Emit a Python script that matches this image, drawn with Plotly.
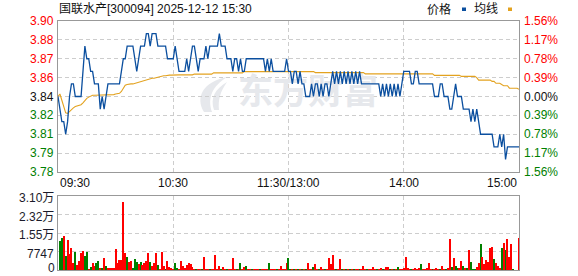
import plotly.graph_objects as go

# ---------------- data ----------------
stock_title = "国联水产[300094] 2025-12-12 15:30"
prev_close = 3.84
max_pct = 1.5625  # percent half-range of the price axis
vol_max = 30988

time_labels = ["09:30", "10:30", "11:30/13:00", "14:00", "15:00"]
time_ticks = [0, 60, 120, 180, 240]

price_labels = ["3.78", "3.79", "3.81", "3.82", "3.84", "3.86", "3.87", "3.88", "3.90"]
pct_labels = ["1.56%", "1.17%", "0.78%", "0.39%", "0.00%", "0.39%", "0.78%", "1.17%", "1.56%"]
vol_labels = ["0", "7747", "1.55万", "2.32万", "3.10万"]

price = [
    3.84, 3.83, 3.82, 3.82, 3.81, 3.82, 3.84, 3.85, 3.85, 3.84,
    3.84, 3.84, 3.84, 3.86, 3.88, 3.87, 3.87, 3.86, 3.86, 3.85,
    3.85, 3.85, 3.83, 3.84, 3.83, 3.84, 3.85, 3.85, 3.85, 3.85,
    3.85, 3.85, 3.85, 3.86, 3.87, 3.87, 3.88, 3.88, 3.88, 3.88,
    3.87, 3.86, 3.87, 3.88, 3.88, 3.88, 3.89, 3.89, 3.88, 3.89,
    3.89, 3.89, 3.88, 3.88, 3.88, 3.88, 3.88, 3.87, 3.87, 3.87,
    3.87, 3.88, 3.87, 3.86, 3.86, 3.86, 3.86, 3.87, 3.86, 3.87,
    3.88, 3.88, 3.87, 3.86, 3.87, 3.87, 3.87, 3.88, 3.87, 3.88,
    3.88, 3.88, 3.88, 3.88, 3.89, 3.88, 3.88, 3.88, 3.87, 3.87,
    3.87, 3.86, 3.87, 3.87, 3.86, 3.87, 3.86, 3.86, 3.87, 3.87,
    3.87, 3.87, 3.87, 3.87, 3.87, 3.87, 3.87, 3.87, 3.86, 3.87,
    3.86, 3.87, 3.86, 3.86, 3.86, 3.86, 3.86, 3.86, 3.86, 3.87,
    3.86, 3.86, 3.85, 3.86, 3.86, 3.85, 3.86, 3.85, 3.85, 3.84,
    3.84, 3.84, 3.85, 3.84, 3.85, 3.85, 3.84, 3.85, 3.84, 3.85,
    3.85, 3.84, 3.85, 3.86, 3.85, 3.86, 3.85, 3.86, 3.85, 3.86,
    3.85, 3.86, 3.85, 3.86, 3.85, 3.86, 3.85, 3.86, 3.85, 3.85,
    3.85, 3.85, 3.85, 3.85, 3.85, 3.85, 3.85, 3.85, 3.84, 3.85,
    3.84, 3.85, 3.84, 3.85, 3.84, 3.85, 3.84, 3.85, 3.84, 3.85,
    3.86, 3.86, 3.86, 3.86, 3.85, 3.85, 3.86, 3.86, 3.85, 3.85,
    3.85, 3.85, 3.85, 3.85, 3.85, 3.85, 3.84, 3.84, 3.84, 3.85,
    3.85, 3.84, 3.84, 3.84, 3.83, 3.83, 3.84, 3.85, 3.84, 3.84,
    3.84, 3.83, 3.83, 3.83, 3.83, 3.82, 3.83, 3.82, 3.83, 3.82,
    3.81, 3.81, 3.81, 3.81, 3.81, 3.81, 3.81, 3.80, 3.80, 3.80,
    3.81, 3.80, 3.81, 3.79, 3.80, 3.80, 3.80, 3.80, 3.80, 3.80,
    3.80,
]

avg_price = [
    3.8400, 3.8420, 3.8370, 3.8310, 3.8270, 3.8265, 3.8280, 3.8300, 3.8310, 3.8320,
    3.8325, 3.8330, 3.8335, 3.8350, 3.8370, 3.8385, 3.8395, 3.8405, 3.8410, 3.8410,
    3.8410, 3.8410, 3.8410, 3.8410, 3.8410, 3.8410, 3.8410, 3.8410, 3.8410, 3.8415,
    3.8420, 3.8425, 3.8425, 3.8440, 3.8470, 3.8490, 3.8495, 3.8500, 3.8500, 3.8500,
    3.8505, 3.8505, 3.8510, 3.8515, 3.8520, 3.8525, 3.8530, 3.8535, 3.8540, 3.8545,
    3.8545, 3.8550, 3.8555, 3.8560, 3.8560, 3.8565, 3.8565, 3.8570, 3.8570, 3.8570,
    3.8572, 3.8572, 3.8572, 3.8572, 3.8572, 3.8572, 3.8572, 3.8572, 3.8572, 3.8572,
    3.8572, 3.8578, 3.8578, 3.8578, 3.8578, 3.8578, 3.8578, 3.8578, 3.8578, 3.8578,
    3.8578, 3.8588, 3.8588, 3.8588, 3.8588, 3.8588, 3.8588, 3.8588, 3.8588, 3.8588,
    3.8588, 3.8588, 3.8588, 3.8588, 3.8588, 3.8588, 3.8588, 3.8598, 3.8598, 3.8598,
    3.8598, 3.8598, 3.8598, 3.8598, 3.8598, 3.8598, 3.8598, 3.8598, 3.8598, 3.8598,
    3.8598, 3.8598, 3.8598, 3.8598, 3.8598, 3.8598, 3.8598, 3.8598, 3.8598, 3.8598,
    3.8598, 3.8598, 3.8598, 3.8598, 3.8598, 3.8598, 3.8598, 3.8598, 3.8598, 3.8598,
    3.8598, 3.8598, 3.8598, 3.8598, 3.8590, 3.8590, 3.8590, 3.8590, 3.8590, 3.8590,
    3.8590, 3.8590, 3.8590, 3.8590, 3.8590, 3.8590, 3.8590, 3.8590, 3.8590, 3.8590,
    3.8590, 3.8590, 3.8590, 3.8590, 3.8590, 3.8590, 3.8590, 3.8590, 3.8590, 3.8590,
    3.8580, 3.8580, 3.8580, 3.8580, 3.8580, 3.8580, 3.8580, 3.8580, 3.8580, 3.8580,
    3.8580, 3.8580, 3.8580, 3.8580, 3.8580, 3.8580, 3.8580, 3.8580, 3.8580, 3.8580,
    3.8580, 3.8580, 3.8580, 3.8580, 3.8580, 3.8580, 3.8580, 3.8580, 3.8580, 3.8580,
    3.8580, 3.8580, 3.8580, 3.8580, 3.8580, 3.8580, 3.8568, 3.8568, 3.8568, 3.8568,
    3.8568, 3.8568, 3.8568, 3.8568, 3.8568, 3.8568, 3.8568, 3.8568, 3.8568, 3.8568,
    3.8560, 3.8560, 3.8560, 3.8560, 3.8560, 3.8560, 3.8560, 3.8560, 3.8550, 3.8530,
    3.8530, 3.8530, 3.8530, 3.8530, 3.8530, 3.8530, 3.8520, 3.8520, 3.8505, 3.8505,
    3.8505, 3.8495, 3.8486, 3.8486, 3.8486, 3.8466, 3.8466, 3.8466, 3.8466, 3.8466,
    3.8457,
]

volume = [
    0,
    12100, 13500, 14200, 5900, 12600, 6600, 9400, 2800, 7500, 2100,
    3800, 7300, 7900, 5900, 7500, 400, 1400, 2800, 1700, 2800,
    3800, 600, 1000, 5200, 1700, 600, 600, 600, 600, 8900,
    3100, 4200, 4200, 28500, 7300, 5600, 3400, 3800, 1000, 4700,
    3400, 2400, 3400, 1900, 2800, 3800, 7300, 3400, 1700, 2800,
    7300, 2100, 400, 7500, 1700, 400, 3800, 1400, 600, 400,
    3100, 700, 400, 3800, 1700, 1000, 2200, 2800, 2400, 1100,
    400, 400, 400, 400, 400, 5600, 400, 400, 400, 400,
    400, 6300, 400, 1700, 400, 1400, 400, 400, 400, 400,
    5200, 400, 400, 400, 2800, 400, 1400, 1700, 400, 400,
    400, 400, 400, 400, 400, 400, 400, 400, 400, 2800,
    400, 400, 400, 400, 400, 1700, 400, 400, 3100, 5200,
    400, 400, 400, 400, 400, 400, 400, 400, 400, 2800,
    400, 400, 1300, 2400, 400, 400, 1300, 400, 400, 400,
    5000, 2500, 6300, 400, 400, 400, 4600, 400, 400, 400,
    400, 400, 400, 400, 400, 400, 400, 400, 1700, 400,
    400, 400, 400, 1300, 400, 400, 400, 800, 400, 400,
    1300, 1300, 400, 400, 400, 400, 1300, 400, 400, 800,
    5400, 800, 400, 400, 400, 800, 400, 800, 2500, 400,
    400, 800, 2900, 400, 400, 400, 800, 400, 400, 1700,
    400, 400, 800, 13000, 1300, 5000, 1700, 800, 800, 3800,
    1700, 800, 600, 8400, 3400, 400, 400, 1300, 2900, 10900,
    5400, 2500, 4200, 3400, 9200, 9600, 4600, 2900, 1700, 800,
    9200, 11300, 8400, 13000, 5400, 10900, 400, 0, 0, 13400,
]

# 1 = up (red bar), 0 = down (green bar)
vol_up = (
    "1"
    "0010111101" "1110010110" "0101011111" "1111101100"
    "0101111011" "1011101111" "0011111111" "1011011101"
    "1111011011" "1101011011" "0111011110" "1110111110"
    "0101010101" "1101101101" "1111011010" "1010110111"
    "0111101101" "1101010111" "1110111101" "1111011101"
    "1011010011" "0101000110" "1111110111" "0101110111"
)

# ---------------- style ----------------
W, H = 578, 276
ML, MR, MT, MB = 58, 59, 21, 6
PW, PH = W - ML - MR, H - MT - MB
MAIN_BOTTOM_PX, VOL_TOP_PX = 172, 196

BLUE = "#0b4f9f"
GOLD = "#e3a21f"
RED = "#ff0000"
GREEN = "#008000"
GRID = "#cdcdcd"
FRAME = "#999999"
TXT = "#111111"
FONT = "Liberation Sans, Noto Sans CJK SC, sans-serif"


def py(p):
    return 1 - (p - MT) / PH


def pxp(p):
    return (p - ML) / PW


main_dom = [py(MAIN_BOTTOM_PX), 1]
vol_dom = [0, py(VOL_TOP_PX)]

lo = prev_close * (1 - max_pct / 100)
hi = prev_close * (1 + max_pct / 100)
n_lv = len(price_labels)
levels = [lo + (hi - lo) * i / (n_lv - 1) for i in range(n_lv)]
vol_levels = [vol_max * i / (len(vol_labels) - 1) for i in range(len(vol_labels))]

x = list(range(len(price)))
xv = list(range(len(volume)))
bar_colors = [RED if c == "1" else GREEN for c in vol_up[: len(volume)]]

fig = go.Figure()

# watermark text (drawn first so it stays under the lines)
wx = (308 - ML) / PW * 240
wy = hi - (95 - MT) / (MAIN_BOTTOM_PX - MT) * (hi - lo)
fig.add_trace(go.Scatter(
    x=[wx], y=[wy], mode="text", text=["东方财富"],
    textfont=dict(size=35, color="#e6e8ec", family="Noto Sans CJK SC", weight=700),
    hoverinfo="skip", showlegend=False, xaxis="x", yaxis="y",
))

fig.add_trace(go.Scatter(
    x=x, y=avg_price, mode="lines", line=dict(color=GOLD, width=1.1),
    showlegend=False, xaxis="x", yaxis="y",
))
fig.add_trace(go.Scatter(
    x=x, y=price, mode="lines", line=dict(color=BLUE, width=1.3),
    showlegend=False, xaxis="x", yaxis="y",
))
fig.add_trace(go.Bar(
    x=xv, y=volume, marker=dict(color=bar_colors, line=dict(width=0)),
    width=0.55, showlegend=False, xaxis="x2", yaxis="y2",
))

axis_common = dict(
    showline=True, mirror=True, linecolor=FRAME, linewidth=1,
    showgrid=True, gridcolor=GRID, gridwidth=1, griddash="4px,3px",
    zeroline=False, showticklabels=False, ticks="",
)

fig.update_layout(
    width=W, height=H,
    margin=dict(l=ML, r=MR, t=MT, b=MB),
    paper_bgcolor="white", plot_bgcolor="white",
    bargap=0,
    xaxis=dict(domain=[0, 1], range=[0, 240], anchor="y",
               tickvals=time_ticks[1:-1], **axis_common),
    yaxis=dict(domain=main_dom, range=[lo, hi], anchor="x",
               tickvals=levels[1:-1], **axis_common),
    xaxis2=dict(domain=[0, 1], range=[0, 240], anchor="y2", matches="x",
                tickvals=time_ticks[1:-1], **axis_common),
    yaxis2=dict(domain=vol_dom, range=[0, vol_max], anchor="x2",
                tickvals=vol_levels[1:-1], **axis_common),
)

ann = []
mid = (n_lv - 1) // 2
for i, (lv, t, pt) in enumerate(zip(levels, price_labels, pct_labels)):
    col = RED if i > mid else (GREEN if i < mid else TXT)
    ann.append(dict(xref="paper", yref="y", x=0, y=lv, xshift=-2, xanchor="right",
                    yanchor="middle", text=t, showarrow=False,
                    font=dict(family=FONT, size=12, color=col)))
    ann.append(dict(xref="paper", yref="y", x=1, y=lv, xshift=3, xanchor="left",
                    yanchor="middle", text=pt, showarrow=False,
                    font=dict(family=FONT, size=12, color=col)))

for k, (lv, t) in enumerate(zip(vol_levels, vol_labels)):
    if k == 0:
        ann.append(dict(xref="paper", yref="y2", x=0, y=lv, xshift=-2, yshift=-6,
                        xanchor="right", yanchor="bottom", text=t, showarrow=False,
                        borderpad=0, font=dict(family=FONT, size=12, color="#1a1a2a")))
    else:
        ann.append(dict(xref="paper", yref="y2", x=0, y=lv, xshift=-2, yshift=-2,
                        xanchor="right", yanchor="middle", text=t, showarrow=False,
                        font=dict(family=FONT, size=12, color="#1a1a2a")))

for i, (tk, t) in enumerate(zip(time_ticks, time_labels)):
    xa = "left" if i == 0 else ("right" if i == len(time_ticks) - 1 else "center")
    ann.append(dict(xref="x", yref="paper", x=tk, y=main_dom[0], yshift=-2,
                    xanchor=xa, yanchor="top", text=t, showarrow=False,
                    font=dict(family=FONT, size=12, color=TXT)))

ann.append(dict(xref="paper", yref="paper", x=0, y=1, xshift=-1, yshift=12,
                xanchor="left", yanchor="middle", text=stock_title, showarrow=False,
                font=dict(family=FONT, size=12, color=TXT)))
ann.append(dict(xref="paper", yref="paper", x=pxp(453), y=1, yshift=12,
                xanchor="right", yanchor="middle", text="价格", showarrow=False,
                font=dict(family=FONT, size=12, color=TXT)))
ann.append(dict(xref="paper", yref="paper", x=pxp(500), y=1, yshift=12,
                xanchor="right", yanchor="middle", text="均线", showarrow=False,
                font=dict(family=FONT, size=12, color=TXT)))
fig.update_layout(annotations=ann)

shapes = [
    dict(type="rect", xref="paper", yref="paper", x0=pxp(462), x1=pxp(466),
         y0=py(11), y1=py(7.5), fillcolor=BLUE, line=dict(width=0)),
    dict(type="rect", xref="paper", yref="paper", x0=pxp(508), x1=pxp(512),
         y0=py(11), y1=py(7.5), fillcolor=GOLD, line=dict(width=0)),
]


def ppath(pts):
    s = ""
    for cmd, coords in pts:
        s += cmd + " " + " ".join(f"{pxp(a):.4f},{py(b):.4f}" for a, b in coords) + " "
    return s + "Z"


logo = ppath([
    ("M", [(204, 112)]),
    ("C", [(195, 97), (203, 82), (227, 77)]),
    ("C", [(213, 86), (207, 97), (212, 112)]),
])
shapes.append(dict(type="path", xref="paper", yref="paper", path=logo,
                   fillcolor="#e6e8ec", line=dict(width=0), layer="below"))
logo2 = ppath([
    ("M", [(214, 110)]),
    ("C", [(210, 98), (215, 89), (227, 82)]),
    ("C", [(220, 92), (218, 100), (219, 110)]),
])
shapes.append(dict(type="path", xref="paper", yref="paper", path=logo2,
                   fillcolor="#e6e8ec", line=dict(width=0), layer="below"))
fig.update_layout(shapes=shapes)

fig.write_html("out.html")
